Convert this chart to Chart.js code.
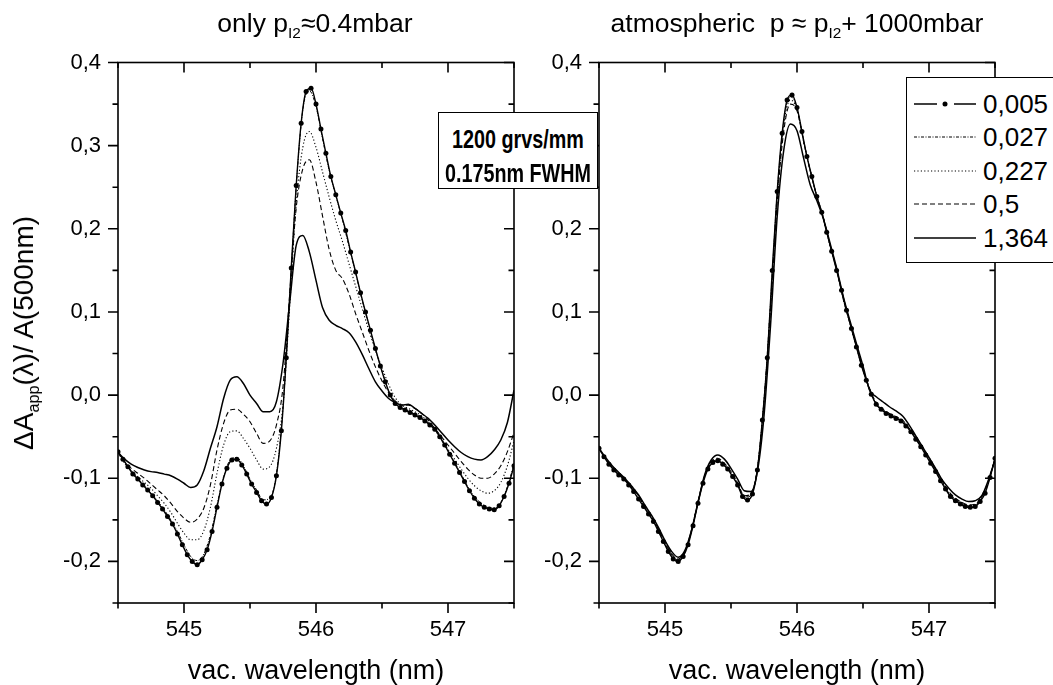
<!DOCTYPE html>
<html><head><meta charset="utf-8">
<script src="https://cdn.jsdelivr.net/npm/chart.js@4.4.0/dist/chart.umd.min.js"></script>
<style>
body{margin:0;background:#fff;width:1053px;height:685px;overflow:hidden;position:relative;font-family:"Liberation Sans",Arial,sans-serif;color:#000}
canvas{position:absolute;top:0}
#cL{left:0}
#cR{left:527px}
.ttl{position:absolute;top:10px;width:600px;text-align:center;font-size:26.5px;line-height:26px;white-space:nowrap}
.sb{font-size:0.58em;position:relative;top:0.4em;line-height:0}
#ytitle{position:absolute;left:24px;top:333px;transform:translate(-50%,-50%) rotate(-90deg);font-size:28px;line-height:28px;white-space:nowrap}
#note{position:absolute;left:438px;top:112px;width:158px;height:75px;border:1.5px solid #000;background:#fff;font-weight:bold;font-size:25px;white-space:nowrap}
#note div{position:absolute;left:79px;height:34px;line-height:34px;white-space:nowrap;transform:translateX(-50%) scaleX(0.79);transform-origin:50% 50%}
#legend{position:absolute;left:906px;top:77px;width:160px;height:184px;border:1.5px solid #000;background:#fff}
.lr{position:absolute;left:0;height:34px;width:160px}
.lr svg{position:absolute;left:7px;top:12px}
.lr span{position:absolute;left:76px;top:0;font-size:26px;line-height:34px}
</style></head>
<body>
<canvas id="cL" width="527" height="685"></canvas>
<canvas id="cR" width="526" height="685"></canvas>
<div class="ttl" style="left:15px">only p<span class="sb">I2</span>≈0.4mbar</div>
<div class="ttl" style="left:497px">atmospheric&nbsp; p ≈ p<span class="sb">I2</span>+ 1000mbar</div>
<div id="ytitle">ΔA<span class="sb">app</span>(λ)/ A(500nm)</div>
<div id="note"><div style="top:9px">1200 grvs/mm</div><div style="top:43px">0.175nm FWHM</div></div>
<div id="legend"></div>
<script>
// ---------------- data ----------------
const seriesLabels = ['0,005', '0,027', '0,227', '0,5', '1,364'];
const xTickLabels = {545: '545', 546: '546', 547: '547'};
const yTickLabels = {'-0.2': '-0,2', '-0.1': '-0,1', '0.0': '0,0', '0.1': '0,1', '0.2': '0,2', '0.3': '0,3', '0.4': '0,4'};
const xTitle = 'vac. wavelength (nm)';

// wavelength grid of the marked (0,005) curve
const wlFine = [544.5, 544.5375, 544.575, 544.6125, 544.65, 544.6875, 544.725, 544.7625, 544.8, 544.8375,
  544.875, 544.9125, 544.95, 544.9875, 545.025, 545.0625, 545.1, 545.1375, 545.175, 545.2125,
  545.25, 545.2875, 545.325, 545.3625, 545.4, 545.4375, 545.475, 545.5125, 545.55, 545.5875,
  545.625, 545.6625, 545.7, 545.7375, 545.775, 545.8125, 545.85, 545.8875, 545.925, 545.9625,
  546, 546.0375, 546.075, 546.1125, 546.15, 546.1875, 546.225, 546.2625, 546.3, 546.3375,
  546.375, 546.4125, 546.45, 546.4875, 546.525, 546.5625, 546.6, 546.6375, 546.675, 546.7125,
  546.75, 546.7875, 546.825, 546.8625, 546.9, 546.9375, 546.975, 547.0125, 547.05, 547.0875,
  547.125, 547.1625, 547.2, 547.2375, 547.275, 547.3125, 547.35, 547.3875, 547.425, 547.4625, 547.5];
// wavelength grid of the other curves
const wlCoarse = [544.5, 544.55, 544.6, 544.65, 544.7, 544.75, 544.8, 544.85, 544.9, 544.95,
  545, 545.05, 545.1, 545.15, 545.2, 545.25, 545.3, 545.35, 545.4, 545.45,
  545.5, 545.55, 545.6, 545.65, 545.7, 545.75, 545.8, 545.85, 545.9, 545.95,
  546, 546.05, 546.1, 546.15, 546.2, 546.25, 546.3, 546.35, 546.4, 546.45,
  546.5, 546.55, 546.6, 546.65, 546.7, 546.75, 546.8, 546.85, 546.9, 546.95,
  547, 547.05, 547.1, 547.15, 547.2, 547.25, 547.3, 547.35, 547.4, 547.45, 547.5];

// left panel: only I2
const left005 = [-0.068,-0.077,-0.086,-0.095,-0.101,-0.108,-0.114,-0.121,-0.129,-0.137,
  -0.146,-0.155,-0.167,-0.180,-0.192,-0.200,-0.204,-0.198,-0.186,-0.164,
  -0.135,-0.107,-0.088,-0.078,-0.077,-0.084,-0.095,-0.107,-0.117,-0.127,
  -0.131,-0.123,-0.097,-0.043,0.045,0.153,0.252,0.327,0.365,0.369,
  0.350,0.320,0.291,0.263,0.241,0.219,0.198,0.172,0.148,0.123,
  0.100,0.078,0.056,0.035,0.016,0.000,-0.010,-0.015,-0.018,-0.021,
  -0.024,-0.027,-0.031,-0.036,-0.041,-0.050,-0.060,-0.071,-0.082,-0.093,
  -0.104,-0.115,-0.124,-0.131,-0.135,-0.137,-0.138,-0.133,-0.122,-0.106,-0.085];
const left027 = [-0.068,-0.080,-0.091,-0.100,-0.109,-0.118,-0.127,-0.138,-0.150,-0.164,
  -0.180,-0.194,-0.199,-0.191,-0.168,-0.132,-0.098,-0.078,-0.075,-0.085,
  -0.101,-0.114,-0.126,-0.124,-0.095,-0.015,0.116,0.250,0.343,0.366,
  0.347,0.308,0.270,0.240,0.211,0.179,0.147,0.114,0.084,0.055,
  0.029,0.005,-0.010,-0.015,-0.019,-0.023,-0.027,-0.033,-0.041,-0.054,
  -0.067,-0.081,-0.095,-0.110,-0.122,-0.130,-0.135,-0.136,-0.129,-0.110,-0.083];
const left227 = [-0.069,-0.082,-0.091,-0.098,-0.105,-0.112,-0.121,-0.130,-0.141,-0.154,
  -0.166,-0.174,-0.174,-0.163,-0.135,-0.094,-0.060,-0.044,-0.043,-0.052,
  -0.064,-0.078,-0.089,-0.086,-0.064,-0.012,0.105,0.230,0.298,0.317,
  0.298,0.268,0.238,0.210,0.185,0.158,0.131,0.104,0.078,0.054,
  0.033,0.013,-0.003,-0.012,-0.016,-0.020,-0.025,-0.032,-0.042,-0.053,
  -0.065,-0.077,-0.089,-0.100,-0.109,-0.115,-0.118,-0.115,-0.105,-0.085,-0.055];
const left05 = [-0.069,-0.080,-0.088,-0.094,-0.100,-0.107,-0.114,-0.121,-0.130,-0.140,
  -0.148,-0.153,-0.149,-0.136,-0.108,-0.066,-0.034,-0.018,-0.017,-0.023,
  -0.032,-0.046,-0.058,-0.055,-0.036,0.010,0.120,0.225,0.272,0.283,
  0.256,0.215,0.175,0.150,0.140,0.122,0.098,0.076,0.054,0.034,
  0.017,0.003,-0.007,-0.012,-0.012,-0.016,-0.022,-0.030,-0.040,-0.050,
  -0.060,-0.070,-0.080,-0.089,-0.096,-0.100,-0.100,-0.095,-0.085,-0.068,-0.045];
const left1364 = [-0.069,-0.077,-0.083,-0.087,-0.090,-0.092,-0.093,-0.095,-0.097,-0.101,
  -0.106,-0.111,-0.108,-0.091,-0.064,-0.038,-0.004,0.018,0.022,0.014,
  0.000,-0.010,-0.020,-0.020,-0.008,0.038,0.110,0.180,0.192,0.172,
  0.138,0.105,0.090,0.084,0.080,0.075,0.064,0.049,0.032,0.016,
  0.005,-0.004,-0.009,-0.012,-0.011,-0.016,-0.022,-0.028,-0.036,-0.045,
  -0.054,-0.062,-0.069,-0.074,-0.077,-0.078,-0.074,-0.066,-0.054,-0.033,0.006];

// right panel: I2 + 1000 mbar air
const right005 = [-0.064,-0.074,-0.083,-0.090,-0.096,-0.101,-0.108,-0.116,-0.125,-0.134,
  -0.143,-0.152,-0.164,-0.176,-0.188,-0.197,-0.200,-0.194,-0.180,-0.157,
  -0.130,-0.106,-0.089,-0.081,-0.079,-0.083,-0.089,-0.098,-0.108,-0.122,
  -0.126,-0.119,-0.090,-0.030,0.045,0.150,0.245,0.315,0.355,0.361,
  0.346,0.317,0.287,0.263,0.239,0.220,0.196,0.173,0.150,0.126,
  0.102,0.080,0.058,0.036,0.018,0.001,-0.011,-0.017,-0.022,-0.025,
  -0.028,-0.031,-0.037,-0.044,-0.053,-0.062,-0.072,-0.082,-0.092,-0.103,
  -0.113,-0.122,-0.127,-0.131,-0.134,-0.135,-0.134,-0.128,-0.118,-0.099,-0.076];
const right027 = [-0.064,-0.077,-0.087,-0.095,-0.103,-0.112,-0.122,-0.136,-0.148,-0.163,
  -0.179,-0.193,-0.199,-0.189,-0.164,-0.129,-0.098,-0.082,-0.078,-0.084,
  -0.094,-0.107,-0.123,-0.121,-0.088,-0.006,0.112,0.243,0.330,0.359,
  0.345,0.306,0.270,0.239,0.213,0.180,0.151,0.115,0.087,0.058,
  0.030,0.007,-0.011,-0.019,-0.023,-0.027,-0.032,-0.041,-0.052,-0.064,
  -0.077,-0.091,-0.105,-0.118,-0.126,-0.131,-0.134,-0.133,-0.124,-0.105,-0.076];
const right227 = [-0.064,-0.077,-0.086,-0.095,-0.102,-0.112,-0.121,-0.135,-0.147,-0.162,
  -0.178,-0.192,-0.198,-0.188,-0.163,-0.128,-0.097,-0.081,-0.077,-0.083,
  -0.093,-0.106,-0.122,-0.120,-0.088,-0.008,0.108,0.238,0.325,0.355,
  0.343,0.305,0.270,0.239,0.213,0.180,0.151,0.116,0.087,0.058,
  0.031,0.007,-0.010,-0.018,-0.023,-0.027,-0.031,-0.041,-0.051,-0.063,
  -0.076,-0.090,-0.104,-0.117,-0.125,-0.130,-0.133,-0.132,-0.123,-0.104,-0.076];
const right05 = [-0.064,-0.076,-0.086,-0.094,-0.102,-0.111,-0.121,-0.135,-0.147,-0.161,
  -0.177,-0.191,-0.197,-0.188,-0.163,-0.128,-0.097,-0.080,-0.076,-0.082,
  -0.092,-0.105,-0.121,-0.119,-0.088,-0.010,0.104,0.232,0.318,0.350,
  0.342,0.305,0.270,0.239,0.213,0.181,0.152,0.117,0.088,0.059,
  0.032,0.008,-0.009,-0.017,-0.022,-0.026,-0.030,-0.040,-0.050,-0.062,
  -0.075,-0.089,-0.103,-0.116,-0.124,-0.129,-0.132,-0.131,-0.122,-0.103,-0.076];
const right1364 = [-0.064,-0.075,-0.085,-0.093,-0.101,-0.110,-0.120,-0.133,-0.145,-0.159,
  -0.175,-0.188,-0.195,-0.187,-0.163,-0.129,-0.096,-0.078,-0.072,-0.077,
  -0.088,-0.101,-0.115,-0.116,-0.092,-0.025,0.085,0.215,0.295,0.326,
  0.318,0.285,0.253,0.234,0.212,0.183,0.153,0.119,0.090,0.062,
  0.035,0.006,-0.002,-0.008,-0.014,-0.019,-0.025,-0.036,-0.049,-0.062,
  -0.075,-0.088,-0.102,-0.112,-0.120,-0.125,-0.128,-0.127,-0.121,-0.102,-0.078];

// ---------------- styles ----------------
const lineStyles = [
  {borderWidth: 1.4, borderDash: [], pointRadius: 2.5},
  {borderWidth: 1.0, borderDash: [3, 1.5, 1, 1.5], pointRadius: 0},
  {borderWidth: 1.1, borderDash: [1.2, 2.2], pointRadius: 0},
  {borderWidth: 1.1, borderDash: [5, 3], pointRadius: 0},
  {borderWidth: 1.5, borderDash: [], pointRadius: 0}
];

Chart.defaults.font.family = "'Liberation Sans', Arial, sans-serif";
Chart.defaults.color = '#000';

function pts(xs, ys) { return ys.map((v, i) => ({x: xs[i], y: v})); }

const frameTicks = {
  id: 'frameTicks',
  afterDraw(chart) {
    const {ctx, chartArea: {left, right, top, bottom}, scales: {x, y}} = chart;
    ctx.save();
    ctx.strokeStyle = '#000';
    ctx.lineWidth = 1.6;
    ctx.strokeRect(left, top, right - left, bottom - top);
    ctx.beginPath();
    x.ticks.forEach(t => {
      const px = x.getPixelForValue(t.value);
      const major = Math.abs(t.value - Math.round(t.value)) < 1e-6;
      const L = major ? 10 : 5.5;
      ctx.moveTo(px, bottom); ctx.lineTo(px, bottom + L);
      ctx.moveTo(px, top); ctx.lineTo(px, top + L);
    });
    y.ticks.forEach(t => {
      const py = y.getPixelForValue(t.value);
      const major = Math.abs(t.value * 10 - Math.round(t.value * 10)) < 1e-6;
      const L = major ? 10 : 5.5;
      ctx.moveTo(left, py); ctx.lineTo(left - L, py);
      ctx.moveTo(right, py); ctx.lineTo(right - L, py);
    });
    ctx.stroke();
    ctx.restore();
  }
};

function yLabel(v) {
  if (Math.abs(v * 10 - Math.round(v * 10)) > 1e-6) return '';
  return yTickLabels[(Math.round(v * 10) / 10).toFixed(1)] || '';
}

function makePanel(id, yWidth, padRight, series) {
  const datasets = series.map((s, i) => Object.assign({
    label: seriesLabels[i],
    data: pts(s.x, s.y),
    borderColor: '#000',
    backgroundColor: '#000',
    pointBackgroundColor: '#000',
    pointBorderWidth: 0,
    pointHoverRadius: 0,
    cubicInterpolationMode: 'monotone',
    fill: false
  }, lineStyles[i]));
  return new Chart(document.getElementById(id), {
    type: 'line',
    data: {datasets},
    options: {
      responsive: false,
      animation: false,
      events: [],
      layout: {padding: {left: 0, top: 62.5, right: padRight, bottom: 0}},
      plugins: {legend: {display: false}, tooltip: {enabled: false}},
      scales: {
        x: {
          type: 'linear', min: 544.5, max: 547.5,
          afterFit(s) { s.height = 82; },
          grid: {display: false, drawTicks: true, tickLength: 10},
          border: {display: false},
          ticks: {stepSize: 0.5, autoSkip: false, maxRotation: 0, padding: 4,
            font: {size: 22},
            callback: v => xTickLabels[Math.round(v * 100) / 100] || ''},
          title: {display: true, text: xTitle, font: {size: 27, lineHeight: 1}, padding: {top: 0, bottom: 0}}
        },
        y: {
          type: 'linear', min: -0.25, max: 0.4,
          afterFit(s) { s.width = yWidth; },
          grid: {display: false, drawTicks: true, tickLength: 10},
          border: {display: false},
          ticks: {stepSize: 0.05, autoSkip: false, padding: 7, font: {size: 22}, callback: yLabel}
        }
      }
    },
    plugins: [frameTicks]
  });
}

makePanel('cL', 118, 13, [
  {x: wlFine, y: left005}, {x: wlCoarse, y: left027}, {x: wlCoarse, y: left227},
  {x: wlCoarse, y: left05}, {x: wlCoarse, y: left1364}
]);
makePanel('cR', 72, 58, [
  {x: wlFine, y: right005}, {x: wlCoarse, y: right027}, {x: wlCoarse, y: right227},
  {x: wlCoarse, y: right05}, {x: wlCoarse, y: right1364}
]);

// ---------------- legend ----------------
const legendSamples = [
  '<line x1="0" y1="5" x2="23" y2="5" stroke="#000" stroke-width="1.5"/><circle cx="31" cy="5" r="2.5" fill="#000"/><line x1="40" y1="5" x2="62" y2="5" stroke="#000" stroke-width="1.5"/>',
  '<line x1="0" y1="5" x2="62" y2="5" stroke="#000" stroke-width="1" stroke-dasharray="3 1.5 1 1.5"/>',
  '<line x1="0" y1="5" x2="62" y2="5" stroke="#000" stroke-width="1.1" stroke-dasharray="1.2 2.2"/>',
  '<line x1="0" y1="5" x2="62" y2="5" stroke="#000" stroke-width="1.1" stroke-dasharray="5 3"/>',
  '<line x1="0" y1="5" x2="62" y2="5" stroke="#000" stroke-width="1.5"/>'
];
const lg = document.getElementById('legend');
seriesLabels.forEach((lab, i) => {
  const row = document.createElement('div');
  row.className = 'lr';
  row.style.top = (25.5 + 33.5 * i - 17) + 'px';
  row.innerHTML = '<svg width="62" height="10">' + legendSamples[i] + '</svg><span>' + lab + '</span>';
  lg.appendChild(row);
});
</script>
</body></html>
